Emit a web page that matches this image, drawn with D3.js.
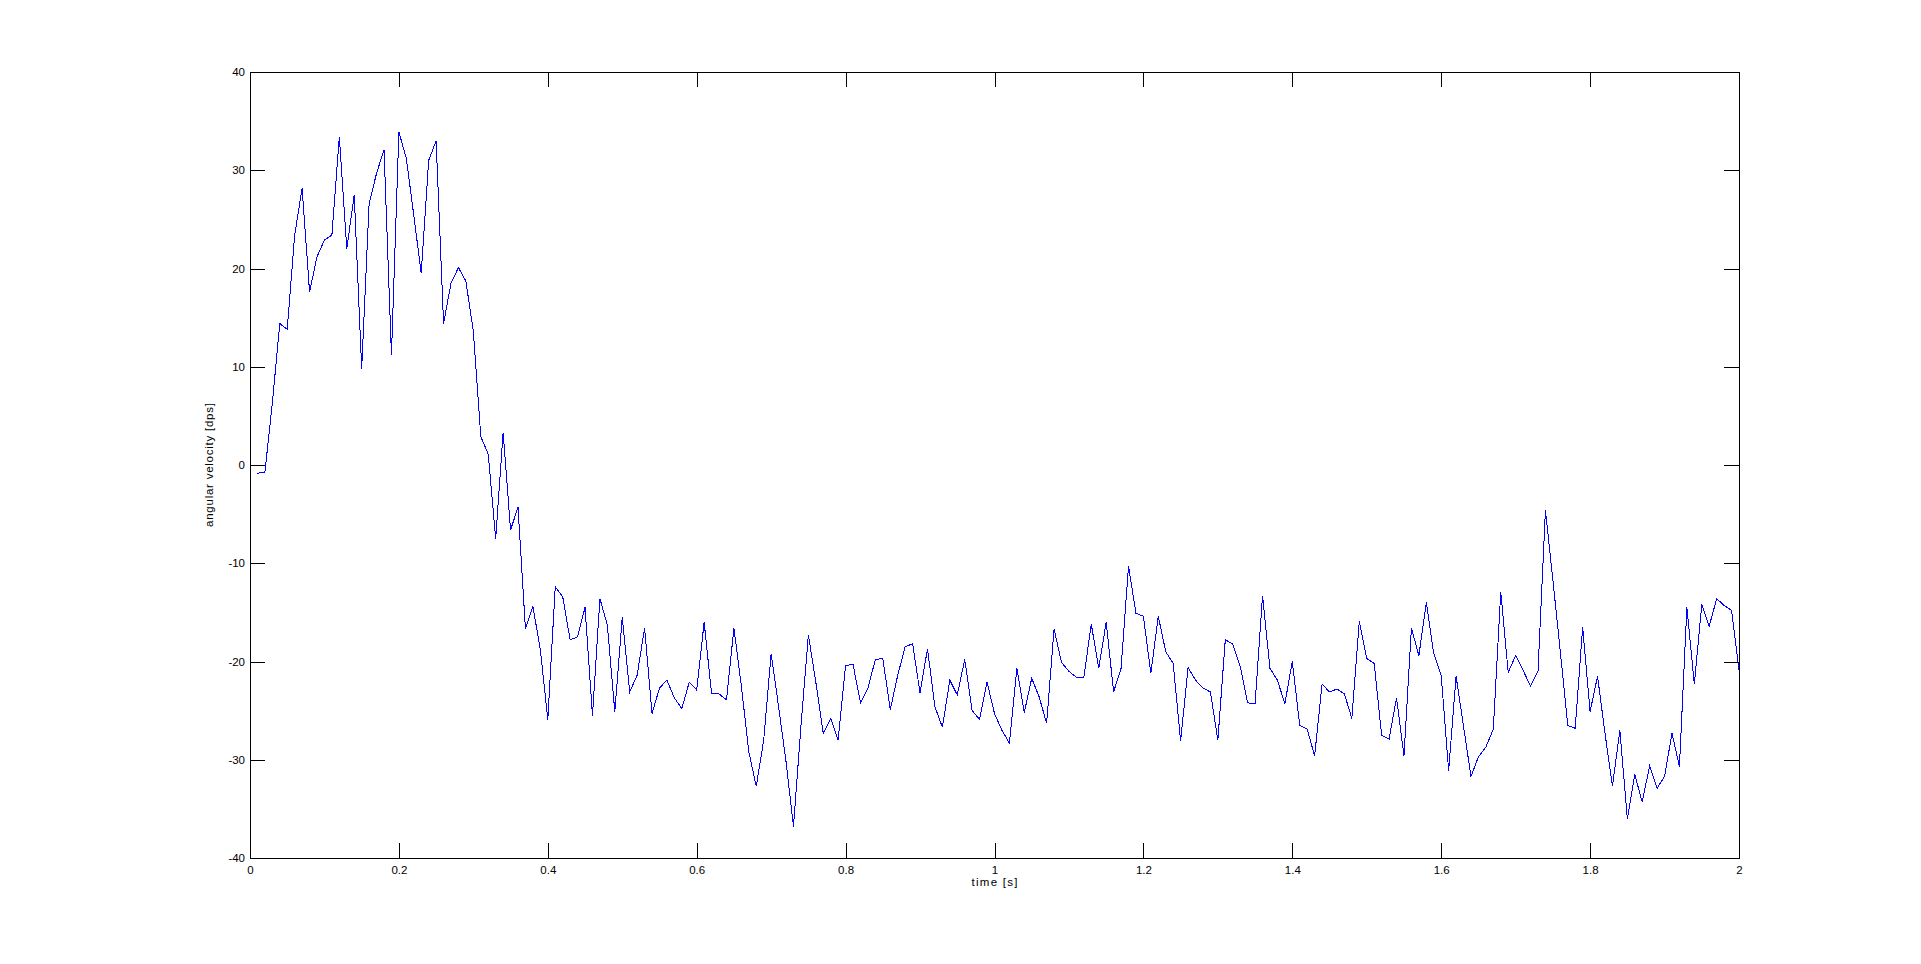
<!DOCTYPE html>
<html>
<head>
<meta charset="utf-8">
<script src="https://cdn.jsdelivr.net/npm/d3@7"></script>
<style>
  html, body { margin: 0; padding: 0; background: #fff; }
  svg { display: block; }
  text { font-family: "Liberation Sans", Arial, Helvetica, sans-serif; font-size: 11.5px; fill: #000; }
</style>
</head>
<body>
<svg id="chart" width="1921" height="964"></svg>
<script>
// ---- data ----
const timeS = [
  0.01,0.02,0.03,0.04,0.05,0.06,0.07,0.08,0.09,0.10,
  0.11,0.12,0.13,0.14,0.15,0.16,0.17,0.18,0.19,0.20,
  0.21,0.22,0.23,0.24,0.25,0.26,0.27,0.28,0.29,0.30,
  0.31,0.32,0.33,0.34,0.35,0.36,0.37,0.38,0.39,0.40,
  0.41,0.42,0.43,0.44,0.45,0.46,0.47,0.48,0.49,0.50,
  0.51,0.52,0.53,0.54,0.55,0.56,0.57,0.58,0.59,0.60,
  0.61,0.62,0.63,0.64,0.65,0.66,0.67,0.68,0.69,0.70,
  0.71,0.72,0.73,0.74,0.75,0.76,0.77,0.78,0.79,0.80,
  0.81,0.82,0.83,0.84,0.85,0.86,0.87,0.88,0.89,0.90,
  0.91,0.92,0.93,0.94,0.95,0.96,0.97,0.98,0.99,1.00,
  1.01,1.02,1.03,1.04,1.05,1.06,1.07,1.08,1.09,1.10,
  1.11,1.12,1.13,1.14,1.15,1.16,1.17,1.18,1.19,1.20,
  1.21,1.22,1.23,1.24,1.25,1.26,1.27,1.28,1.29,1.30,
  1.31,1.32,1.33,1.34,1.35,1.36,1.37,1.38,1.39,1.40,
  1.41,1.42,1.43,1.44,1.45,1.46,1.47,1.48,1.49,1.50,
  1.51,1.52,1.53,1.54,1.55,1.56,1.57,1.58,1.59,1.60,
  1.61,1.62,1.63,1.64,1.65,1.66,1.67,1.68,1.69,1.70,
  1.71,1.72,1.73,1.74,1.75,1.76,1.77,1.78,1.79,1.80,
  1.81,1.82,1.83,1.84,1.85,1.86,1.87,1.88,1.89,1.90,
  1.91,1.92,1.93,1.94,1.95,1.96,1.97,1.98,1.99,2.00
];

const angularVelocity = [
  -0.84,-0.73,6.3,14.4,13.8,23.4,28.2,17.6,21.2,22.9,
  23.4,33.4,22.0,27.5,9.8,26.6,29.7,32.1,11.2,33.9,
  31.2,25.4,19.5,31.0,33.0,14.4,18.5,20.1,18.7,13.6,
  2.9,1.1,-7.5,3.3,-6.6,-4.3,-16.7,-14.4,-18.8,-25.9,
  -12.4,-13.4,-17.8,-17.5,-14.5,-25.5,-13.6,-16.3,-25.1,-15.5,
  -23.1,-21.4,-16.6,-25.3,-22.7,-21.9,-23.7,-24.8,-22.1,-22.9,
  -16.0,-23.3,-23.3,-23.9,-16.6,-22.5,-29.2,-32.7,-28.0,-19.2,
  -24.6,-30.2,-36.8,-26.6,-17.3,-22.1,-27.3,-25.8,-28.0,-20.4,
  -20.3,-24.2,-22.7,-19.8,-19.7,-24.9,-21.4,-18.5,-18.2,-23.2,
  -18.7,-24.6,-26.7,-21.9,-23.4,-19.8,-25.0,-25.9,-22.1,-25.3,
  -27.0,-28.3,-20.7,-25.2,-21.7,-23.6,-26.3,-16.7,-20.1,-21.0,
  -21.6,-21.6,-16.2,-20.7,-16.0,-23.1,-20.7,-10.3,-15.1,-15.4,
  -21.2,-15.4,-19.0,-20.2,-28.1,-20.6,-21.9,-22.7,-23.1,-28.0,
  -17.8,-18.2,-20.5,-24.2,-24.3,-13.3,-20.7,-21.9,-24.3,-20.0,
  -26.5,-26.9,-29.6,-22.3,-23.1,-22.8,-23.3,-25.8,-15.9,-19.7,
  -20.2,-27.5,-27.9,-23.7,-29.6,-16.6,-19.4,-14.0,-19.2,-21.4,
  -31.1,-21.5,-26.6,-31.7,-29.7,-28.7,-26.9,-12.9,-21.1,-19.4,
  -20.9,-22.5,-21.0,-4.6,-11.7,-19.0,-26.5,-26.8,-16.5,-25.1,
  -21.5,-27.3,-32.7,-27.0,-36.0,-31.5,-34.3,-30.6,-32.9,-31.7,
  -27.3,-30.7,-14.5,-22.3,-14.2,-16.4,-13.6,-14.3,-14.8,-20.9
];

const xTicks = [0, 0.2, 0.4, 0.6, 0.8, 1, 1.2, 1.4, 1.6, 1.8, 2];
const xTickLabels = ["0","0.2","0.4","0.6","0.8","1","1.2","1.4","1.6","1.8","2"];
const yTicks = [-40, -30, -20, -10, 0, 10, 20, 30, 40];
const yTickLabels = ["-40","-30","-20","-10","0","10","20","30","40"];
const xDomain = [0, 2];
const yDomain = [-40, 40];
const xLabel = "time [s]";
const yLabel = "angular velocity [dps]";

// ---- layout ----
const svg = d3.select("#chart");
const L = 250, T = 72, R = 1739, B = 858;
const TICK = 15;

const x = d3.scaleLinear().domain(xDomain).range([L, R]);
const y = d3.scaleLinear().domain(yDomain).range([B, T]);

svg.append("rect").attr("x", 0).attr("y", 0).attr("width", 1921).attr("height", 964).attr("fill", "#fff");

// data line
const line = d3.line().x((d, i) => x(timeS[i])).y(d => y(d));
svg.append("path")
  .datum(angularVelocity)
  .attr("d", line)
  .attr("fill", "none")
  .attr("stroke", "#0000ff")
  .attr("stroke-width", 1)
  .attr("shape-rendering", "crispEdges");

function styleAxis(g) {
  g.select(".domain").remove();
  g.selectAll(".tick line").attr("stroke", "#000").attr("shape-rendering", "crispEdges");
  g.selectAll("text").attr("font-family", null).attr("font-size", null).attr("fill", "#000");
}

// bottom axis
svg.append("g").attr("transform", `translate(0,${B})`)
  .call(d3.axisBottom(x).tickValues(xTicks).tickFormat((d, i) => xTickLabels[i])
    .tickSizeInner(-TICK).tickSizeOuter(0).tickPadding(8))
  .call(styleAxis);
// top axis (ticks only)
svg.append("g").attr("transform", `translate(0,${T})`)
  .call(d3.axisTop(x).tickValues(xTicks).tickFormat("")
    .tickSizeInner(-TICK).tickSizeOuter(0))
  .call(styleAxis);
// left axis
svg.append("g").attr("transform", `translate(${L},0)`)
  .call(d3.axisLeft(y).tickValues(yTicks).tickFormat((d, i) => yTickLabels[i])
    .tickSizeInner(-TICK).tickSizeOuter(0).tickPadding(5))
  .call(styleAxis);
// right axis (ticks only)
svg.append("g").attr("transform", `translate(${R},0)`)
  .call(d3.axisRight(y).tickValues(yTicks).tickFormat("")
    .tickSizeInner(-TICK).tickSizeOuter(0))
  .call(styleAxis);

// box
svg.append("rect")
  .attr("x", L).attr("y", T).attr("width", R - L).attr("height", B - T)
  .attr("fill", "none").attr("stroke", "#000").attr("stroke-width", 1)
  .attr("shape-rendering", "crispEdges");

// axis labels
svg.append("text")
  .attr("x", (L + R) / 2).attr("y", 886)
  .attr("text-anchor", "middle")
  .attr("textLength", 46).attr("lengthAdjust", "spacing")
  .text(xLabel);

svg.append("text")
  .attr("transform", `translate(213,${(T + B) / 2}) rotate(-90)`)
  .attr("text-anchor", "middle")
  .attr("textLength", 124).attr("lengthAdjust", "spacing")
  .text(yLabel);
</script>
</body>
</html>
